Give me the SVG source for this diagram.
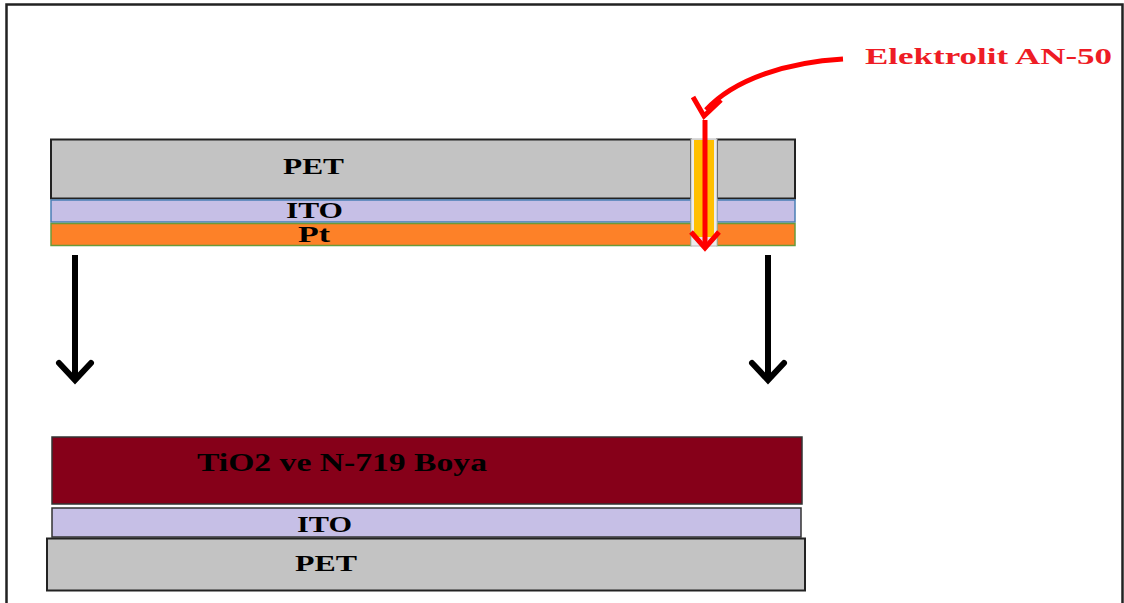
<svg xmlns="http://www.w3.org/2000/svg" width="1124" height="603" viewBox="0 0 1124 603">
<defs>
<style>
.lbl{font-family:"Liberation Serif","Times New Roman",serif;font-weight:bold;fill:#000;}
.red{font-family:"Liberation Serif","Times New Roman",serif;font-weight:bold;fill:#ee1c25;}
.pet{fill:#c3c3c3;stroke:#222;stroke-width:2;}
.ito{fill:#c6bfe6;}
.blk{stroke:#000;stroke-width:6;fill:none;}
.rd{stroke:#ff0000;stroke-width:5;fill:none;}
</style>
</defs>
<rect x="0" y="0" width="1124" height="603" fill="#fff"/>
<path d="M6.5 603 V4.5 H1122.5 V603" fill="none" stroke="#222" stroke-width="2.5"/>

<g id="top-stack">
  <g id="top-pet">
    <rect class="pet" x="51" y="139.5" width="640" height="59"/>
    <rect class="pet" x="717" y="139.5" width="78" height="59"/>
    <text class="lbl" x="283" y="174" font-size="24" textLength="61" lengthAdjust="spacingAndGlyphs">PET</text>
  </g>
  <g id="top-ito">
    <rect class="ito" x="51" y="200" width="640" height="22" stroke="#4a7fb5" stroke-width="1.5"/>
    <rect class="ito" x="717" y="200" width="78" height="22" stroke="#4a7fb5" stroke-width="1.5"/>
    <text class="lbl" x="286" y="218" font-size="24" textLength="57" lengthAdjust="spacingAndGlyphs">ITO</text>
  </g>
  <g id="top-pt">
    <rect x="51" y="223.5" width="640" height="22" fill="#fd8128" stroke="#6a9a3a" stroke-width="1.5"/>
    <rect x="717" y="223.5" width="78" height="22" fill="#fd8128" stroke="#6a9a3a" stroke-width="1.5"/>
    <text class="lbl" x="298" y="242" font-size="24" textLength="32" lengthAdjust="spacingAndGlyphs">Pt</text>
  </g>
  <g id="channel">
    <rect x="691" y="139" width="26" height="107" fill="#ececec" stroke="#b8b8b8" stroke-width="1"/>
    <rect x="694" y="140" width="20" height="97" fill="#ffc000"/>
  </g>
</g>

<g id="bottom-stack">
  <g id="tio2">
    <rect x="52" y="437" width="750" height="67" fill="#860019" stroke="#333" stroke-width="1.5"/>
    <text class="lbl" x="197" y="471" font-size="25" textLength="290" lengthAdjust="spacingAndGlyphs">TiO2 ve N-719 Boya</text>
  </g>
  <g id="bottom-ito">
    <rect class="ito" x="52" y="508" width="749" height="29" stroke="#333" stroke-width="1.5"/>
    <text class="lbl" x="297" y="532" font-size="23" textLength="55" lengthAdjust="spacingAndGlyphs">ITO</text>
  </g>
  <g id="bottom-pet">
    <rect class="pet" x="47" y="538.5" width="758" height="52"/>
    <text class="lbl" x="295" y="571" font-size="23" textLength="62" lengthAdjust="spacingAndGlyphs">PET</text>
  </g>
</g>

<g id="label">
  <text class="red" x="865" y="64" font-size="24" textLength="247" lengthAdjust="spacingAndGlyphs">Elektrolit AN-50</text>
</g>

<g id="connectors">
  <path class="blk" d="M75 255 V380"/>
  <path class="blk" d="M59 363 L75 380 L91 363" stroke-linecap="round"/>
  <path class="blk" d="M768 255 V380"/>
  <path class="blk" d="M752 363 L768 380 L784 363" stroke-linecap="round"/>
  <path class="rd" d="M843 59 C790 62 735 78 706 110" stroke-width="5.5"/>
  <path class="rd" d="M693 97 L704 116 L721 100" stroke-width="5.5"/>
  <path class="rd" d="M705 120 V247"/>
  <path class="rd" d="M691 232 L705 248 L719 232"/>
</g>
</svg>
